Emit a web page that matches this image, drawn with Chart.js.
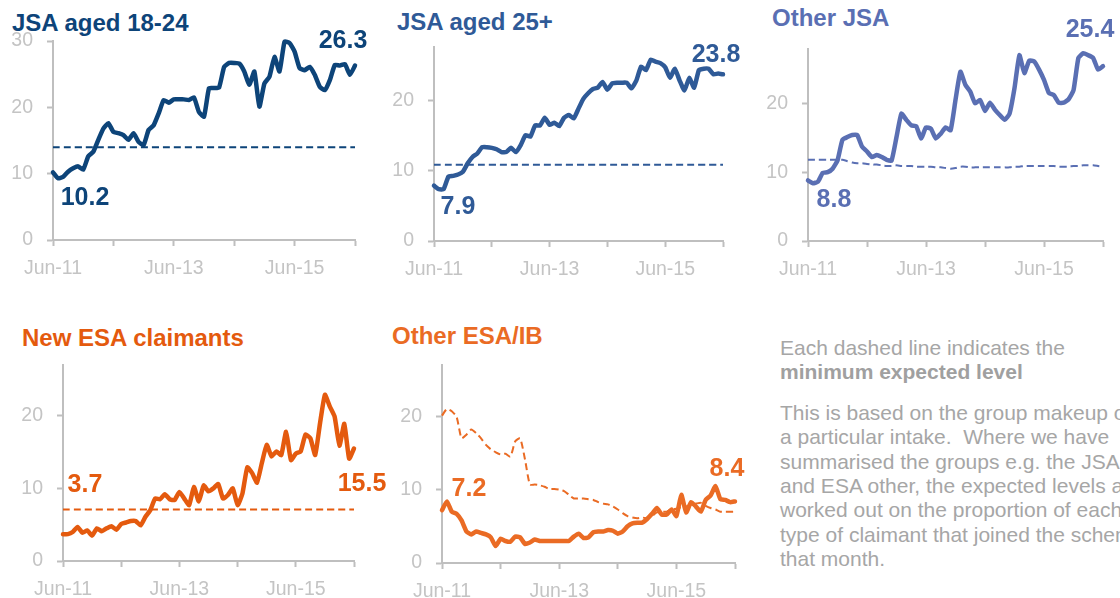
<!DOCTYPE html>
<html>
<head>
<meta charset="utf-8">
<script src="https://cdn.jsdelivr.net/npm/chart.js@4.4.1/dist/chart.umd.min.js"></script>
<style>
  body { margin: 0; width: 1120px; height: 598px; overflow: hidden; background: #fff; position: relative;
         font-family: "Liberation Sans", Arial, sans-serif; }
  canvas { position: absolute; }
  .ttl { position: absolute; font-weight: bold; font-size: 24px; line-height: 24px; white-space: nowrap; }
  .note { position: absolute; left: 780px; top: 336px; font-size: 21px; line-height: 24.4px; color: #a6a6a6; white-space: nowrap; }
  .note b { color: #a0a0a0; }
  .note p { margin: 0 0 16px 0; }
</style>
</head>
<body>

<div class="ttl" style="left:12px;top:11px;color:#0d4479">JSA aged 18-24</div>
<div class="ttl" style="left:397px;top:10px;color:#2f5a97">JSA aged 25+</div>
<div class="ttl" style="left:772px;top:6px;color:#5a6fb3">Other JSA</div>
<div class="ttl" style="left:22px;top:326px;color:#e45a0e">New ESA claimants</div>
<div class="ttl" style="left:392px;top:324px;color:#ea6b24">Other ESA/IB</div>

<canvas id="c1"></canvas>
<canvas id="c2"></canvas>
<canvas id="c3"></canvas>
<canvas id="c4"></canvas>
<canvas id="c5"></canvas>

<div class="note">
  <p>Each dashed line indicates the<br><b>minimum expected level</b></p>
  <p>This is based on the group makeup of<br>a particular intake.&nbsp; Where we have<br>summarised the groups e.g. the JSA<br>and ESA other, the expected levels are<br>worked out on the proportion of each<br>type of claimant that joined the scheme<br>that month.</p>
</div>

<script>
// 月のラベル Jun-11 .. Jun-16
const monthNames = ['Jan','Feb','Mar','Apr','May','Jun','Jul','Aug','Sep','Oct','Nov','Dec'];
const months = [];
for (let i = 0; i < 61; i++) {
  const m = (5 + i) % 12;
  const y = 11 + Math.floor((5 + i) / 12);
  months.push(monthNames[m] + '-' + y);
}

const jsa1824 = [10.2, 9.3, 9.5, 10.3, 10.8, 11.1, 10.6, 12.6, 13.3, 15.1,
  16.8, 17.6, 16.3, 16.1, 15.8, 15.1, 16.1, 14.8, 14.3, 16.6,
  17.3, 19.1, 21.1, 20.7, 21.2, 21.2, 21.2, 21.1, 21.5, 19.3,
  18.6, 22.9, 22.9, 23.0, 26.1, 26.7, 26.7, 26.6, 25.4, 23.4,
  25.4, 20.1, 23.6, 24.6, 27.6, 25.4, 29.9, 29.7, 28.4, 25.9,
  25.6, 26.1, 24.9, 23.1, 22.6, 24.1, 26.4, 26.3, 26.5, 24.9,
  26.3];
const jsa1824Expected = 14.0;

const jsa25 = [7.9, 7.4, 7.4, 9.2, 9.3, 9.5, 9.9, 11.1, 12.0, 12.5,
  13.4, 13.4, 13.3, 13.1, 12.7, 12.7, 13.3, 12.7, 13.7, 15.1,
  14.9, 16.5, 16.5, 17.6, 16.6, 16.9, 16.4, 17.6, 18.0, 17.5,
  18.9, 20.3, 21.1, 21.7, 21.9, 22.7, 21.6, 22.5, 22.6, 22.6,
  22.6, 21.8, 22.9, 24.9, 24.4, 25.9, 25.6, 25.4, 24.8, 23.3,
  24.6, 22.9, 21.5, 23.3, 21.9, 24.4, 24.6, 24.6, 23.8, 23.9,
  23.8];
const jsa25Expected = 10.9;

const otherJsa = [8.8, 8.4, 8.6, 9.9, 10.0, 10.5, 11.7, 14.7, 15.1, 15.4,
  15.4, 13.7, 13.0, 12.2, 12.5, 12.2, 11.8, 11.7, 15.1, 18.5,
  17.6, 16.8, 16.7, 14.9, 16.5, 16.3, 14.9, 15.6, 16.5, 16.1,
  20.5, 24.6, 22.7, 21.7, 20.0, 20.5, 18.9, 20.1, 19.1, 18.3,
  17.6, 18.5, 22.2, 27.0, 24.4, 26.2, 26.1, 24.9, 23.4, 21.5,
  21.2, 20.1, 20.1, 20.6, 21.9, 26.6, 27.3, 27.0, 26.6, 24.9,
  25.4];
const otherJsaExpected = [11.8, 11.8, 11.8, 11.8, 11.8, 11.8, 11.8, 11.8,
  11.6, 11.4, 11.3, 11.3, 11.2, 11.1, 11.1, 11.0,
  10.9, 10.9, 11.0, 10.9, 10.9, 10.9, 10.8, 10.8,
  10.8, 10.8, 10.7, 10.7, 10.6, 10.5, 10.6, 10.8,
  10.8, 10.7, 10.7, 10.7, 10.7, 10.7, 10.7, 10.7,
  10.7, 10.7, 10.8, 10.8, 10.9, 10.9, 10.9, 10.9,
  10.9, 10.9, 10.9, 10.8, 10.8, 10.8, 10.9, 10.9,
  11.0, 11.0, 11.0, 10.9, 10.8];

const newEsa = [3.7, 3.7, 4.0, 4.7, 3.9, 4.2, 3.5, 4.5, 4.1, 4.5,
  4.8, 4.3, 5.1, 5.3, 5.5, 5.5, 4.9, 6.1, 7.0, 8.6,
  8.5, 9.2, 8.5, 8.4, 9.5, 8.6, 7.7, 10.2, 8.2, 10.4,
  9.6, 10.0, 10.6, 8.6, 9.1, 10.0, 7.7, 9.3, 12.9, 12.1,
  10.8, 13.5, 16.0, 14.4, 15.1, 14.6, 17.8, 13.9, 14.8, 15.1,
  17.4, 16.9, 14.6, 19.0, 22.9, 21.3, 19.9, 15.9, 18.9, 14.1,
  15.5];
const newEsaExpected = 7.1;

const otherEsa = [7.2, 8.4, 7.0, 6.7, 5.8, 4.3, 3.9, 4.3, 4.1, 3.9,
  3.5, 2.3, 3.3, 3.0, 2.9, 3.6, 3.5, 2.6, 2.8, 3.2,
  3.0, 3.0, 3.0, 3.0, 3.0, 3.0, 3.0, 3.6, 4.0, 3.4,
  3.5, 4.2, 4.3, 4.3, 4.5, 4.4, 4.0, 4.3, 5.0, 5.4,
  5.5, 5.5, 6.0, 6.7, 7.5, 6.6, 6.6, 7.3, 6.4, 9.3,
  6.9, 8.3, 7.7, 7.0, 8.6, 9.2, 10.5, 8.7, 8.6, 8.3,
  8.4];
const otherEsaExpected = [20.1, 21.0, 20.7, 19.9, 17.0, 17.5, 18.2, 17.7, 17.0, 16.1,
  15.5, 15.1, 14.8, 14.9, 14.5, 16.6, 17.0, 14.1, 10.7, 10.7,
  10.6, 10.4, 10.1, 10.1, 10.0, 9.8, 9.3, 8.8, 8.8, 8.8,
  8.7, 8.6, 8.3, 8.1, 8.0, 7.7, 7.3, 6.8, 6.4, 6.2,
  6.1, 6.2, 6.1, 6.4, 6.9, 7.0, 7.0, 7.3, 7.4, 7.6,
  7.7, 8.0, 8.1, 8.2, 7.8, 7.5, 7.3, 7.0, 7.0, 7.0,
  7.0];

Chart.defaults.font.family = '"Liberation Sans", Arial, sans-serif';
Chart.defaults.animation = false;

const AXIS = '#bfbfbf';
const TICK = '#c4c4c4';

// 始点・終点の数値ラベル
const valueLabels = {
  id: 'valueLabels',
  afterDatasetsDraw(chart, args, opts) {
    const ctx = chart.ctx;
    const data = chart.data.datasets[0].data;
    ctx.save();
    ctx.font = 'bold 25px "Liberation Sans", Arial, sans-serif';
    ctx.fillStyle = opts.color;
    ctx.textAlign = 'center';
    ctx.textBaseline = 'middle';
    opts.items.forEach(function (it) {
      const v = data[it.i];
      ctx.fillText(v.toFixed(1), chart.scales.x.getPixelForValue(it.i) + it.dx, chart.scales.y.getPixelForValue(v) + it.dy);
    });
    ctx.restore();
  }
};

function expectedLine(v) {
  // 一定の期待値は両端の2点だけで引く
  if (Array.isArray(v)) return v;
  return [{ x: months[0], y: v }, { x: months[months.length - 1], y: v }];
}

function panel(id, area, padR, ymax, color, values, expected, labels) {
  const cv = document.getElementById(id);
  cv.width = area.r - area.l + 50 + padR;
  cv.height = area.b - area.t + 80;
  cv.style.left = (area.l - 50) + 'px';
  cv.style.top = (area.t - 40) + 'px';

  new Chart(cv, {
    type: 'line',
    data: {
      labels: months,
      datasets: [{
        data: values,
        borderColor: color,
        borderWidth: 4.5,
        pointRadius: 0,
        tension: 0.15,
        borderJoinStyle: 'round',
        borderCapStyle: 'round',
        clip: false
      }, {
        data: expectedLine(expected),
        borderColor: color,
        borderWidth: 2,
        borderDash: [7, 4],
        pointRadius: 0,
        tension: 0.2,
        clip: false
      }]
    },
    options: {
      responsive: false,
      devicePixelRatio: 1,
      layout: { padding: { top: 40, right: padR, left: 0, bottom: 0 } },
      plugins: {
        legend: { display: false },
        tooltip: { enabled: false },
        valueLabels: { color: color, items: labels }
      },
      scales: {
        x: {
          type: 'category',
          offset: false,
          afterFit: function (s) { s.height = 40; },
          border: { color: AXIS, width: 2 },
          grid: {
            drawOnChartArea: false,
            tickLength: 6,
            tickWidth: 2,
            tickColor: function (c) { return c.index % 12 === 0 ? AXIS : 'rgba(0,0,0,0)'; }
          },
          ticks: {
            autoSkip: false,
            maxRotation: 0,
            padding: 11,
            color: TICK,
            font: { size: 19.5 },
            callback: function (v, i) { return i % 24 === 0 ? months[i] : ''; }
          }
        },
        y: {
          min: 0,
          max: ymax,
          afterFit: function (s) { s.width = 50; },
          border: { color: AXIS, width: 2 },
          grid: { drawOnChartArea: false, tickLength: 6, tickWidth: 2, tickColor: AXIS },
          ticks: { stepSize: 10, includeBounds: false, padding: 14, color: TICK, font: { size: 19.5 } }
        }
      }
    },
    plugins: [valueLabels]
  });
}

panel('c1', { l: 53, t: 41, r: 355, b: 240 }, 20, 30, '#0d4479', jsa1824, jsa1824Expected,
  [{ i: 0, dx: 32, dy: 26 }, { i: 60, dx: -12, dy: -24 }]);
panel('c2', { l: 434, t: 47, r: 723, b: 241 }, 20, 27.7, '#2f5a97', jsa25, jsa25Expected,
  [{ i: 0, dx: 24, dy: 21 }, { i: 60, dx: -7, dy: -19 }]);
panel('c3', { l: 808, t: 49, r: 1103, b: 241 }, 17, 27.9, '#5a6fb3', otherJsa, otherJsaExpected,
  [{ i: 0, dx: 26, dy: 20 }, { i: 60, dx: -13, dy: -36 }]);
panel('c4', { l: 63, t: 365, r: 354, b: 561 }, 35, 27, '#e45a0e', newEsa, newEsaExpected,
  [{ i: 0, dx: 22, dy: -49 }, { i: 60, dx: 8, dy: 36 }]);
panel('c5', { l: 442, t: 365, r: 735, b: 563 }, 20, 27, '#ea6b24', otherEsa, otherEsaExpected,
  [{ i: 0, dx: 27, dy: -21 }, { i: 60, dx: -8, dy: -32 }]);
</script>
</body>
</html>
